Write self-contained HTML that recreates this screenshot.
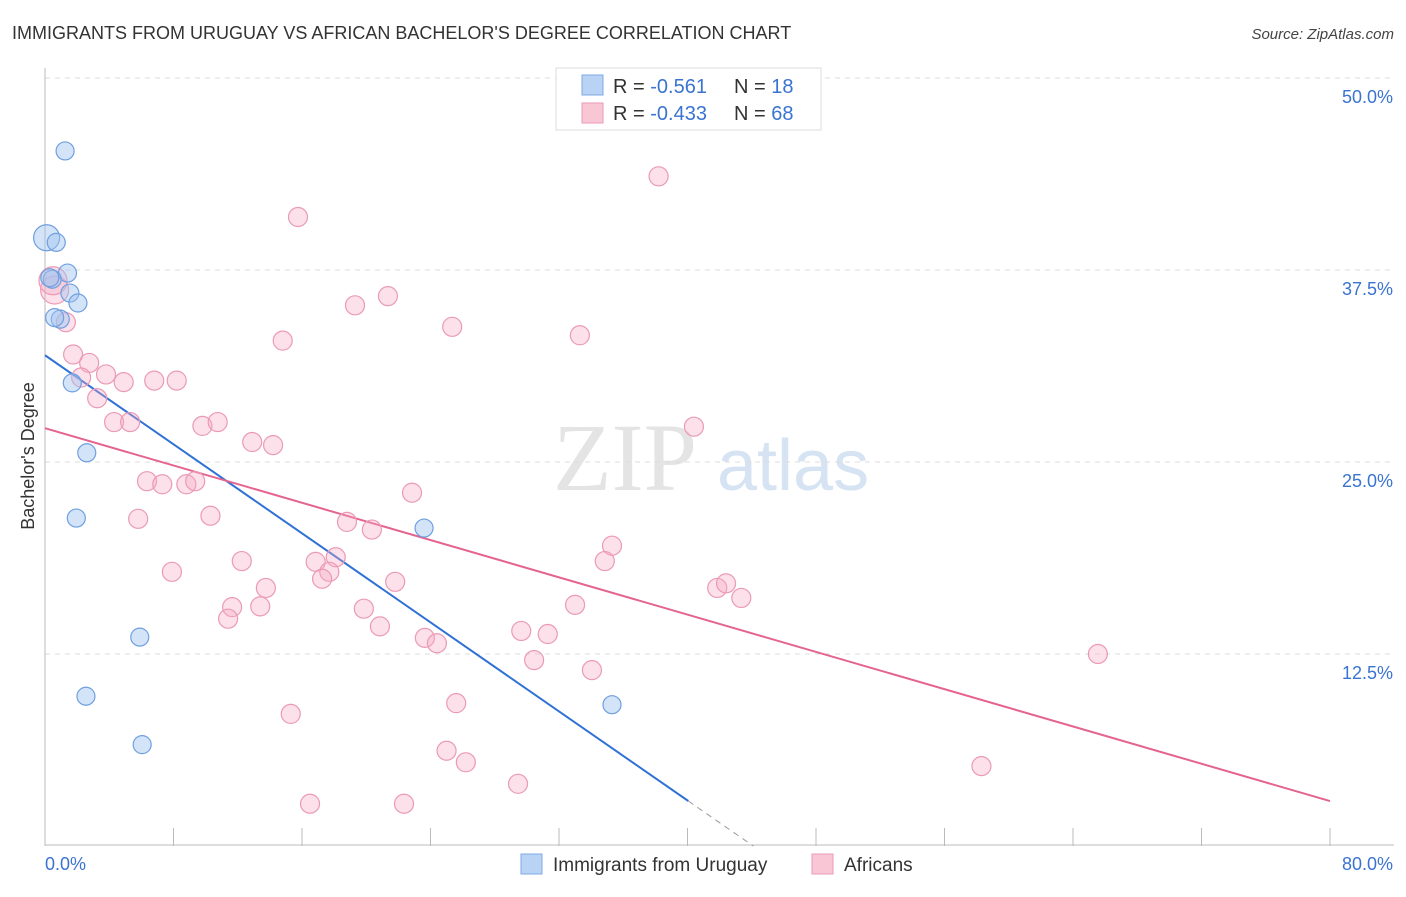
<!DOCTYPE html>
<html><head><meta charset="utf-8"><style>
body{margin:0;background:#fff;font-family:"Liberation Sans",sans-serif;}
svg text{font-family:"Liberation Sans",sans-serif;}
</style></head><body>
<svg id="chart" width="1406" height="892" viewBox="0 0 1406 892" xmlns="http://www.w3.org/2000/svg">
<text x="12" y="39" font-size="18" fill="#333">IMMIGRANTS FROM URUGUAY VS AFRICAN BACHELOR'S DEGREE CORRELATION CHART</text>
<text x="1394" y="39" font-size="15" fill="#444" text-anchor="end" font-style="italic">Source: ZipAtlas.com</text>
<g>
<text x="553" y="490" font-size="96" fill="#e4e4e4" font-family="Liberation Serif" style="font-family:'Liberation Serif',serif">ZIP</text>
<text x="717" y="490" font-size="72" fill="#d6e3f3">atlas</text>
</g>
<g id="grid"></g>
<g id="axes"></g>
<g id="trend"></g>
<g id="points"></g>
<text transform="translate(34,456) rotate(-90)" font-size="18" fill="#333" text-anchor="middle">Bachelor's Degree</text>
<g>
<rect x="556" y="68" width="265" height="62" fill="#fff" stroke="#ddd"/>
<rect x="582" y="75" width="21" height="20" fill="#b9d3f5" stroke="#7ea9e4"/>
<rect x="582" y="103" width="21" height="20" fill="#f9c6d5" stroke="#ea9ab4"/>
<text x="613" y="93" font-size="20" fill="#333">R = <tspan fill="#3a74d0">-0.561</tspan></text>
<text x="734" y="93" font-size="20" fill="#333">N = <tspan fill="#3a74d0"> 18</tspan></text>
<text x="613" y="120" font-size="20" fill="#333">R = <tspan fill="#3a74d0">-0.433</tspan></text>
<text x="734" y="120" font-size="20" fill="#333">N = <tspan fill="#3a74d0">68</tspan></text>
</g>
<g>
<rect x="521" y="854" width="21" height="20" fill="#b9d3f5" stroke="#7ea9e4"/>
<text x="553" y="871" font-size="19" fill="#333">Immigrants from Uruguay</text>
<rect x="812" y="854" width="21" height="20" fill="#f9c6d5" stroke="#ea9ab4"/>
<text x="844" y="871" font-size="19" fill="#333">Africans</text>
</g>
</svg>
<script>
const xTickLabels=["0.0%","80.0%"];
const yTicks=[12.5,25,37.5,50];
const yTickLabels=["12.5%","25.0%","37.5%","50.0%"];
const blueX=[1.25,0.1,0.7,1.4,0.45,1.55,2.05,0.95,1.7,2.6,1.95,23.6,5.9,2.55,35.3,6.05,0.6,0.3];
const blueY=[45.25,39.6,39.3,37.3,36.9,36.0,35.35,34.3,30.15,25.6,21.35,20.7,13.6,9.75,9.2,6.6,34.4,37.0];
const pinkX=[38.2,15.75,21.35,19.3,25.35,33.3,14.8,1.3,0.6,1.75,2.75,2.25,3.8,4.9,6.8,8.2,3.25,4.3,5.3,9.8,10.75,12.9,14.2,40.4,6.35,7.3,8.8,9.35,22.85,5.8,10.3,18.8,20.35,35.3,34.85,18.1,16.85,12.25,17.7,17.25,7.9,21.8,13.75,41.85,42.4,43.35,11.65,13.4,19.85,33.0,11.4,20.85,29.65,31.3,23.65,24.4,30.45,34.05,65.55,25.6,15.3,25.0,26.2,58.3,29.45,16.5,22.35,0.5];
const pinkY=[43.6,40.95,35.8,35.2,33.8,33.25,32.9,34.1,36.2,32.0,31.45,30.5,30.7,30.2,30.3,30.3,29.15,27.6,27.6,27.35,27.6,26.3,26.1,27.3,23.75,23.55,23.55,23.75,23.0,21.3,21.5,21.1,20.6,19.55,18.55,18.8,18.5,18.55,17.85,17.4,17.85,17.2,16.8,16.8,17.1,16.15,15.55,15.6,15.45,15.7,14.8,14.3,14.0,13.8,13.55,13.2,12.1,11.45,12.5,9.3,8.6,6.2,5.45,5.2,4.05,2.75,2.75,36.8];
const blueTrend=[31.95,-0.7246];
const pinkTrend=[27.2,-0.3034];
const X0=45,X1=1330,Y0=846,Y50=78;
const sx=v=>X0+(X1-X0)*v/80;
const sy=v=>Y0-(Y0-Y50)*v/50;
const NS="http://www.w3.org/2000/svg";
function mk(tag,attrs,parent){const e=document.createElementNS(NS,tag);for(const k in attrs)e.setAttribute(k,attrs[k]);document.getElementById(parent).appendChild(e);return e;}
yTicks.forEach((t,i)=>{
const g=mk('line',{x1:X0,x2:1394,y1:sy(t),y2:sy(t),stroke:'#dcdcdc','stroke-dasharray':'5,5'},'grid');


const l=mk('text',{x:1393,y:sy(t)+25,'font-size':18,fill:'#3a74d0','text-anchor':'end'},'grid');
l.textContent=yTickLabels[i];


});
const ax=mk('line',{x1:X0,x2:X0,y1:68,y2:Y0,stroke:'#bbb'},'axes');


const bx=mk('line',{x1:X0,x2:1394,y1:845,y2:845,stroke:'#bbb'},'axes');


for(let i=0;i<=10;i++){const t=mk('line',{x1:sx(i*8),x2:sx(i*8),y1:828,y2:846,stroke:'#bbb'},'axes');

}
[[0,'start',45],[80,'end',1393]].forEach((d,i)=>{const l=mk('text',{x:d[2],y:870,'font-size':18,fill:'#3a74d0','text-anchor':d[1]},'axes');l.textContent=xTickLabels[i];

});
function trend(tr,xa,xb,col,dash){const e=mk('line',{x1:sx(xa),y1:sy(tr[0]+tr[1]*xa),x2:sx(xb),y2:sy(tr[0]+tr[1]*xb),stroke:col,'stroke-width':dash?1:2},'trend');if(dash)e.setAttribute('stroke-dasharray','6,5');return e;}
let t1=trend(blueTrend,0,40.05,'#2f72d6',false);


let t2=trend(blueTrend,40.05,44.1,'#999',true);


let t3=trend(pinkTrend,0,80,'#e4648f',false);


pinkX.forEach((x,i)=>{const c=mk('circle',{cx:sx(x),cy:sy(pinkY[i]),r:(i===pinkX.length-1||i===8)?14:9.5,fill:'rgba(245,170,195,0.35)',stroke:'#eb9ab5','stroke-width':1.2},'points');

});
blueX.forEach((x,i)=>{const c=mk('circle',{cx:sx(x),cy:sy(blueY[i]),r:i===1?13:9,fill:'rgba(160,195,240,0.45)',stroke:'#6f9fe0','stroke-width':1.2},'points');

});
</script>
</body></html>
